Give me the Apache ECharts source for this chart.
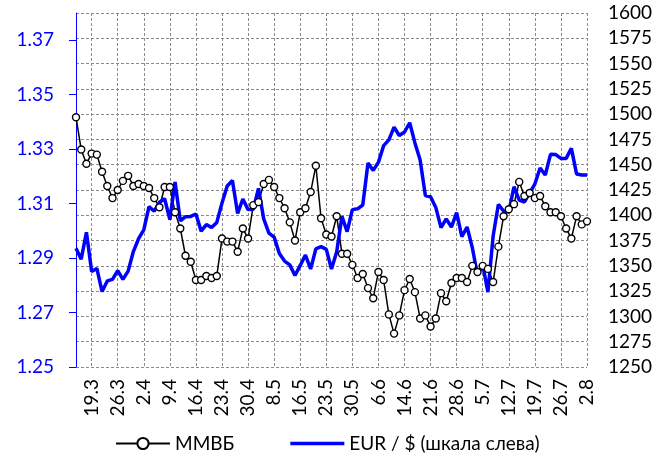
<!DOCTYPE html>
<html>
<head>
<meta charset="utf-8">
<script src="https://cdn.jsdelivr.net/npm/echarts@6/dist/echarts.min.js"></script>
<style>
  html, body { margin: 0; padding: 0; background: #fff; }
  #chart { width: 672px; height: 459px; }
</style>
</head>
<body>
<div id="chart"></div>
<script>
// trading days, 14.3 - 2.8
const dates = [
  '14.3', '15.3', '18.3', '19.3', '20.3', '21.3', '22.3', '25.3', '26.3', '27.3', '28.3', '29.3',
  '1.4', '2.4', '3.4', '4.4', '5.4', '8.4', '9.4', '10.4', '11.4', '12.4', '15.4', '16.4',
  '17.4', '18.4', '19.4', '22.4', '23.4', '24.4', '25.4', '26.4', '29.4', '30.4',
  '2.5', '3.5', '6.5', '7.5', '8.5', '10.5', '13.5', '14.5', '15.5', '16.5', '17.5', '20.5',
  '21.5', '22.5', '23.5', '24.5', '27.5', '28.5', '29.5', '30.5', '31.5',
  '3.6', '4.6', '5.6', '6.6', '7.6', '10.6', '11.6', '13.6', '14.6', '17.6', '18.6', '19.6',
  '20.6', '21.6', '24.6', '25.6', '26.6', '27.6', '28.6',
  '1.7', '2.7', '3.7', '4.7', '5.7', '8.7', '9.7', '10.7', '11.7', '12.7', '15.7', '16.7',
  '17.7', '18.7', '19.7', '22.7', '23.7', '24.7', '25.7', '26.7', '29.7', '30.7', '31.7',
  '1.8', '2.8'
];

// ММВБ index, right scale
const mmvb = [
  1497, 1465, 1451, 1461, 1460, 1443, 1429, 1417, 1425, 1434, 1439, 1429,
  1431, 1429, 1427, 1417, 1408, 1428, 1428, 1403, 1387, 1360, 1354, 1336,
  1336, 1340, 1338, 1340, 1377, 1374, 1374, 1364, 1387, 1377,
  1410, 1413, 1431, 1435, 1428, 1417, 1407, 1393, 1375, 1403, 1407, 1423,
  1449, 1397, 1381, 1379, 1399, 1362, 1362, 1351, 1338,
  1342, 1328, 1318, 1344, 1336, 1302, 1283, 1301, 1326, 1337, 1324, 1298,
  1301, 1290, 1298, 1323, 1315, 1333, 1338,
  1338, 1334, 1350, 1344, 1350, 1347, 1334, 1369, 1399, 1406, 1411, 1433,
  1419, 1422, 1417, 1419, 1409, 1403, 1403, 1399, 1387, 1377, 1399,
  1391, 1394
];

// EUR/USD, left scale
const eurusd = [
  1.2936, 1.2896, 1.2995, 1.2851, 1.2862, 1.2777, 1.2816, 1.2822, 1.2854, 1.2822, 1.2852, 1.2924,
  1.2971, 1.3004, 1.3089, 1.3072, 1.3105, 1.3118, 1.3041, 1.3179, 1.3037, 1.3052, 1.3053, 1.3062,
  1.2999, 1.3023, 1.3012, 1.3031, 1.3102, 1.3165, 1.3185, 1.3064, 1.3117, 1.3078,
  1.3079, 1.3156, 1.3044, 1.2992, 1.2977, 1.2917, 1.2889, 1.2875, 1.2836, 1.2873, 1.2911, 1.2860,
  1.2934, 1.2942, 1.2932, 1.2860, 1.2923, 1.3053, 1.2997, 1.3078, 1.3081,
  1.3095, 1.3249, 1.3222, 1.3252, 1.3313, 1.3334, 1.3381, 1.3350, 1.3363, 1.3397, 1.3323, 1.3260,
  1.3130, 1.3125, 1.3086, 1.3012, 1.3044, 1.3014, 1.3067,
  1.2979, 1.3014, 1.2939, 1.2838, 1.2875, 1.2775, 1.2981, 1.3097, 1.3073, 1.3069, 1.3162, 1.3113,
  1.3106, 1.3139, 1.3172, 1.3231, 1.3205, 1.3281, 1.3280, 1.3266, 1.3266, 1.3303, 1.3209,
  1.3205, 1.3205
];

const eurRange = [1.25, 1.38, 0.02];
const mmvbRange = [1250, 1600, 25];

const FONT = 'Lato';
const weekly = i => i % 5 === 3;   // every 5th day, from 19.3
const gridDash = { color: '#8a8a8a', width: 1, type: [3, 2] };

const chart = echarts.init(document.getElementById('chart'), null, { renderer: 'canvas' });

chart.setOption({
  animation: false,
  textStyle: { fontFamily: FONT },
  grid: { left: 76, right: 85, top: 13, bottom: 92 },
  legend: {
    left: 110,
    top: 429,
    itemWidth: 54,
    itemHeight: 14,
    itemGap: 56,
    textStyle: { fontFamily: FONT, fontSize: 19, color: '#000' },
    data: [
      { name: 'ММВБ' },
      { name: 'EUR / $ (шкала слева)', icon: 'path://M0,0 L54,0 L54,3.5 L0,3.5 Z' }
    ]
  },
  xAxis: {
    type: 'category',
    data: dates,
    boundaryGap: false,
    axisLine: { show: false },
    axisTick: { show: false },
    axisLabel: {
      interval: (i) => weekly(i),
      rotate: 90,
      margin: 12,
      fontFamily: FONT,
      fontSize: 19,
      color: '#000'
    },
    splitLine: { show: true, interval: (i) => weekly(i), lineStyle: gridDash }
  },
  yAxis: [
    {
      type: 'value',
      position: 'left',
      min: eurRange[0],
      max: eurRange[1],
      interval: eurRange[2],
      axisLine: { show: true, lineStyle: { color: '#0000ff', width: 1 } },
      axisTick: { show: true, length: 7, lineStyle: { color: '#0000ff' } },
      axisLabel: {
        showMaxLabel: false,
        margin: 22,
        fontFamily: FONT,
        fontSize: 19,
        color: '#0000ff',
        formatter: v => v.toFixed(2)
      },
      splitLine: { show: false }
    },
    {
      type: 'value',
      position: 'right',
      min: mmvbRange[0],
      max: mmvbRange[1],
      interval: mmvbRange[2],
      axisLine: { show: false },
      axisTick: { show: false },
      axisLabel: {
        margin: 21,
        fontFamily: FONT,
        fontSize: 19,
        color: '#000',
        formatter: v => String(v)
      },
      splitLine: { show: true, lineStyle: gridDash }
    }
  ],
  series: [
    {
      name: 'ММВБ',
      type: 'line',
      yAxisIndex: 1,
      data: mmvb,
      symbol: 'circle',
      symbolSize: 7,
      showAllSymbol: true,
      lineStyle: { color: '#000', width: 1.5 },
      itemStyle: { color: '#fff', borderColor: '#000', borderWidth: 1.4 }
    },
    {
      name: 'EUR / $ (шкала слева)',
      type: 'line',
      yAxisIndex: 0,
      data: eurusd,
      symbol: 'none',
      lineStyle: { color: '#0000ff', width: 3.5 },
      itemStyle: { color: '#0000ff' }
    }
  ]
});
</script>
</body>
</html>
